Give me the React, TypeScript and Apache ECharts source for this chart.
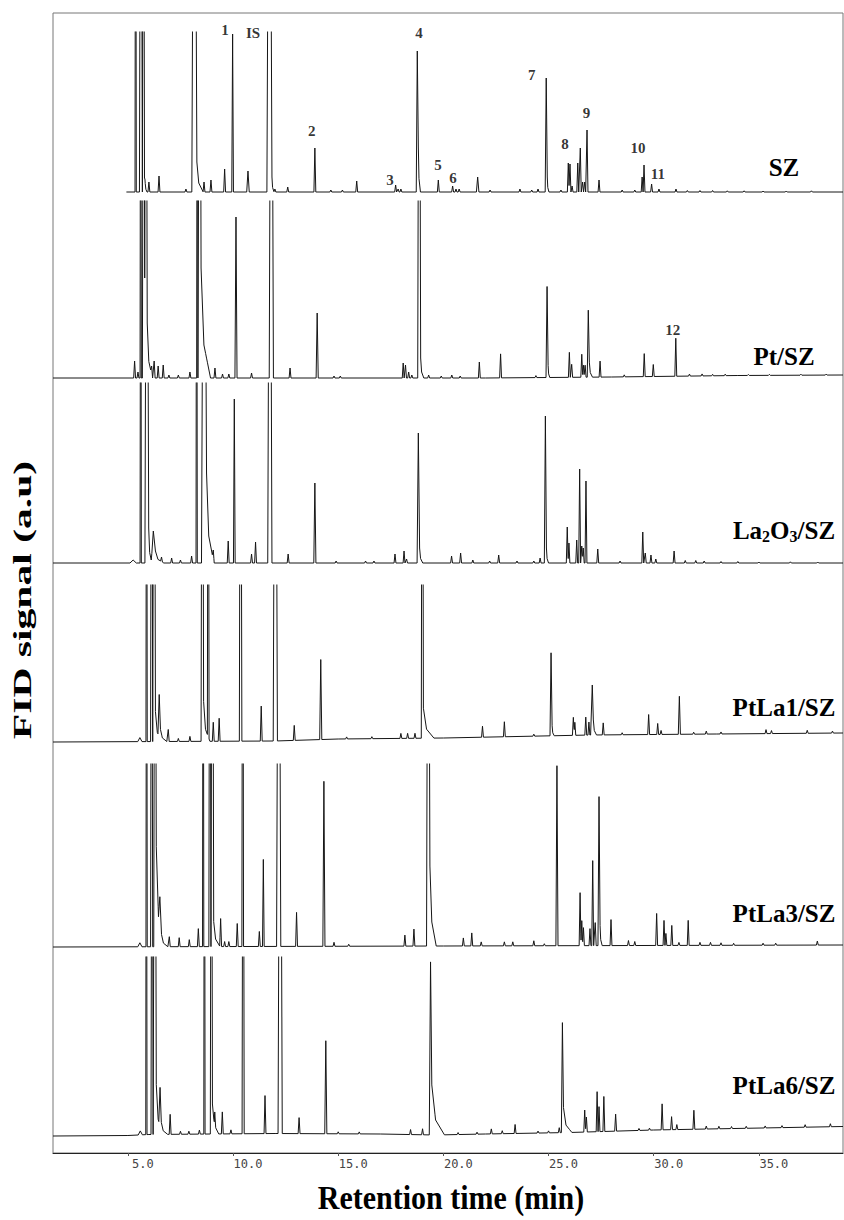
import React, { useEffect, useRef } from "react";
import * as echarts from "echarts";

// ---------- data (retention time in min, signal in a.u.) ----------
const X_MIN = 1.44;
const X_MAX = 39.0;
const TICK_VALUES = [5, 10, 15, 20, 25, 30, 35];

const SAMPLE_NAMES = ["SZ", "Pt/SZ", "La2O3/SZ", "PtLa1/SZ", "PtLa3/SZ", "PtLa6/SZ"];

// peaks: [retention time, height, half width, tail length, tail height]
const SZ_PEAKS = [
  [5.37, 600, 0.03], [5.62, 600, 0.07], [5.74, 600, 0.05, 0.12, 14], [5.81, 13], [6.0, 10], [6.48, 16],
  [7.76, 3], [8.16, 600, 0.12, 0.3, 30], [8.62, 10], [8.95, 12], [9.6, 23], [9.98, 158, 0.04],
  [10.71, 21, 0.06], [11.73, 600, 0.12, 0.1, 15], [11.99, 3], [12.6, 5], [13.89, 44], [14.65, 2],
  [15.2, 2], [15.88, 11], [17.73, 7], [17.85, 3], [17.98, 3], [18.76, 141, 0.05, 0.1, 45],
  [19.76, 12], [20.44, 6], [20.6, 3], [20.75, 3], [21.63, 15, 0.06], [22.22, 2], [23.64, 3],
  [24.2, 2], [24.5, 3], [24.89, 114, 0.05, 0.08, 15], [25.59, 2], [25.94, 29], [26.02, 28], [26.12, 6],
  [26.39, 29], [26.51, 44], [26.62, 10], [26.72, 10], [26.83, 62], [27.4, 12], [28.5, 2], [29.1, 2],
  [29.45, 15], [29.54, 27], [29.9, 8], [30.25, 3], [31.06, 3], [31.6, 1.5], [32.2, 1.5], [32.8, 1.5],
  [33.5, 1.2], [34.3, 1.2], [35.2, 1], [36.3, 1], [37.5, 1.2],
];
const SZ_BASE = [[4.93, 0], [39.0, 0]];

const PT_PEAKS = [
  [5.32, 17], [5.48, 6], [5.61, 600, 0.03], [5.75, 600, 0.06], [5.86, 600, 0.06, 0.25, 55], [6.13, 12],
  [6.25, 17], [6.44, 12], [6.68, 13], [6.95, 3], [7.4, 3], [7.95, 6], [8.3, 600, 0.03],
  [8.42, 600, 0.06, 0.45, 110], [8.74, 12], [9.14, 10], [9.5, 4], [9.8, 4], [10.14, 161, 0.05], [10.88, 5],
  [11.82, 600, 0.1], [12.71, 10], [14.0, 65, 0.05], [14.8, 2], [15.1, 2], [18.09, 15], [18.2, 13],
  [18.35, 6], [18.5, 3], [18.85, 600, 0.07, 0.15, 20], [19.3, 3], [19.9, 2], [20.4, 3], [20.8, 2],
  [21.71, 16], [22.72, 24], [24.4, 2], [24.93, 91, 0.05, 0.08, 12], [25.99, 25], [26.1, 13], [26.58, 23],
  [26.66, 12], [26.74, 12], [26.89, 67, 0.05, 0.15, 15], [27.45, 16], [28.6, 2], [29.55, 23], [29.98, 12],
  [31.05, 38], [31.7, 2], [32.3, 2], [32.8, 1.5], [33.4, 1.5], [34.5, 1], [35.5, 1], [37.0, 1], [38.2, 1],
];
const PT_BASE = [[1.44, 0], [22, 0], [28, 1], [34, 2.5], [39, 3]];

const LA_PEAKS = [
  [5.25, 3, 0.15], [5.61, 600, 0.03], [5.9, 600, 0.09, 0.15, 35], [6.21, 32, 0.1, 0.4, 12], [6.6, 6],
  [7.08, 5], [7.5, 3], [8.03, 7], [8.27, 600, 0.03], [8.62, 600, 0.12, 0.35, 90], [9.06, 13], [9.77, 22],
  [10.06, 164, 0.04], [10.88, 9], [11.07, 21], [11.75, 600, 0.1], [12.62, 9], [13.89, 80, 0.05],
  [14.9, 2], [16.3, 2], [16.7, 2], [17.7, 9], [18.13, 12], [18.25, 4], [18.81, 130, 0.06, 0.15, 15],
  [20.39, 7], [20.82, 10], [21.4, 3], [22.2, 2], [22.63, 8], [23.5, 2], [24.3, 2], [24.6, 5],
  [24.85, 147, 0.05, 0.1, 15], [25.89, 36], [25.97, 20], [26.34, 23], [26.48, 94], [26.58, 17],
  [26.65, 15], [26.78, 82], [27.34, 14], [28.4, 2], [29.48, 31], [29.6, 10], [29.87, 8], [30.1, 4],
  [30.97, 12], [31.5, 2.5], [32.0, 2.5], [32.4, 2], [33.2, 1.5], [34.0, 1.5], [35.0, 1], [36.5, 1.2],
  [37.8, 1],
];
const LA_BASE = [[1.44, 0], [39, 0]];

const PTLA1_PEAKS = [
  [5.57, 4, 0.1], [5.89, 600, 0.03], [6.13, 600, 0.05], [6.25, 600, 0.06, 0.3, 30], [6.49, 47, 0.06, 0.3, 12],
  [6.92, 12], [7.4, 3], [7.95, 5], [8.54, 600, 0.06, 0.3, 40], [8.82, 600, 0.04], [9.06, 19], [9.34, 23],
  [10.36, 600, 0.06], [11.34, 35], [12.01, 600, 0.1], [12.91, 15], [14.17, 80, 0.05], [15.4, 2],
  [16.6, 2], [17.98, 5], [18.3, 5], [18.65, 5], [19.0, 600, 0.05, 0.5, 30], [21.86, 11], [22.9, 15],
  [24.3, 2], [25.12, 83, 0.05, 0.1, 10], [26.18, 18], [26.25, 13], [26.77, 18], [26.92, 13],
  [27.08, 50, 0.05, 0.15, 15], [27.6, 12], [28.5, 2], [29.76, 20], [30.19, 11], [30.35, 4],
  [31.22, 38, 0.05], [31.9, 2], [32.5, 3], [33.2, 2], [35.34, 4], [35.6, 3], [37.3, 3], [38.5, 2],
];
const PTLA1_BASE = [[1.44, 0], [12, 1], [15, 3], [20, 4], [27, 7], [33, 8], [39, 9]];

const PTLA3_PEAKS = [
  [5.57, 4, 0.1], [5.89, 600, 0.03], [6.13, 600, 0.05], [6.29, 600, 0.06, 0.35, 100], [6.52, 50, 0.08, 0.3, 12],
  [6.97, 10], [7.44, 9], [7.92, 7], [8.35, 18], [8.58, 600, 0.03], [8.9, 600, 0.05],
  [9.02, 600, 0.06, 0.3, 25], [9.41, 28], [9.6, 5], [9.8, 5], [10.2, 23], [10.46, 600, 0.04], [11.25, 15],
  [11.44, 87, 0.04], [12.17, 600, 0.1], [13.02, 34], [14.32, 165, 0.05], [14.8, 4], [15.5, 2],
  [18.17, 11], [18.6, 17], [19.28, 600, 0.08, 0.3, 80], [20.95, 8], [21.35, 13], [21.8, 4], [22.9, 4],
  [23.3, 4], [24.3, 5], [24.8, 2], [25.4, 180, 0.05], [26.5, 53], [26.58, 25], [26.66, 18],
  [26.97, 17], [27.1, 85], [27.22, 23], [27.4, 149, 0.05, 0.1, 20], [27.97, 26], [28.8, 5], [29.1, 4],
  [30.14, 32], [30.49, 25], [30.58, 12], [30.86, 20], [31.2, 3], [31.64, 25], [32.2, 3], [32.7, 3],
  [33.2, 2.5], [33.8, 2], [35.2, 2], [35.8, 2], [37.78, 4],
];
const PTLA3_BASE = [[1.44, 0], [20, 1], [39, 2]];

const PTLA6_PEAKS = [
  [5.59, 4, 0.1], [5.88, 600, 0.03], [6.15, 600, 0.05], [6.29, 600, 0.06, 0.3, 50], [6.53, 47, 0.06, 0.3, 12],
  [7.01, 20], [7.5, 3], [7.9, 3], [8.4, 4], [8.64, 600, 0.03], [8.97, 600, 0.05, 0.3, 30], [9.13, 22],
  [9.49, 22], [9.9, 4], [10.48, 600, 0.05], [11.52, 38], [12.24, 600, 0.1], [13.14, 16],
  [14.41, 93, 0.05], [15.0, 2], [16.0, 2], [18.44, 5], [19.01, 6], [19.39, 173, 0.06, 0.6, 50],
  [20.7, 2], [21.6, 2], [22.28, 5], [22.8, 3], [23.41, 9], [24.5, 2], [25.0, 2], [25.51, 5],
  [25.66, 110, 0.05, 0.4, 25], [26.72, 22], [26.8, 15], [27.31, 40], [27.4, 25], [27.63, 35],
  [28.19, 17], [29.3, 2], [29.8, 2], [30.4, 26], [30.85, 13], [31.1, 5], [31.91, 19], [32.5, 3],
  [33.1, 2.5], [33.7, 2], [34.4, 2], [35.3, 2], [36.1, 2], [37.2, 2.5], [38.4, 3],
];
const PTLA6_BASE = [[1.44, 0], [5, 0.5], [6, 1.5], [12, 2.5], [17, 2], [19.6, 1], [22, 2], [26, 3.5], [30, 6], [39, 9.5]];

const TRACE_PEAKS = [SZ_PEAKS, PT_PEAKS, LA_PEAKS, PTLA1_PEAKS, PTLA3_PEAKS, PTLA6_PEAKS];
const TRACE_BASES = [SZ_BASE, PT_BASE, LA_BASE, PTLA1_BASE, PTLA3_BASE, PTLA6_BASE];

// peak labels: [text, retention time, signal] in the SZ panel (12 in Pt/SZ)
const SZ_PEAK_LABELS: [string, number, number][] = [
  ["1", 9.62, 162], ["IS", 10.95, 159], ["2", 13.74, 61], ["3", 17.46, 12], ["4", 18.84, 159],
  ["5", 19.74, 27], ["6", 20.46, 14], ["7", 24.2, 117], ["8", 25.78, 48], ["9", 26.81, 79],
  ["10", 29.25, 44], ["11", 30.2, 18],
];
const PT_PEAK_LABELS: [string, number, number][] = [["12", 30.9, 48]];

// ---------- layout (pixels) ----------
const PLOT_LEFT = 53;
const PLOT_WIDTH = 790;
const FRAME_TOP = 13;
const FRAME_BOTTOM = 1153;
const PANELS = [
  { top: 32, ref: 192, labelY: 167 },
  { top: 201, ref: 378, labelY: 356 },
  { top: 383, ref: 563, labelY: 530 },
  { top: 585, ref: 742, labelY: 707 },
  { top: 764, ref: 947, labelY: 913 },
  { top: 957, ref: 1136, labelY: 1085 },
];
const PAD = 6;

function pieceAt(pts: number[][], x: number, outside: "zero" | "clamp") {
  if (x <= pts[0][0]) return outside === "zero" ? 0 : pts[0][1];
  if (x >= pts[pts.length - 1][0]) return outside === "zero" ? 0 : pts[pts.length - 1][1];
  for (let i = 1; i < pts.length; i++) {
    if (x <= pts[i][0]) {
      const [x0, y0] = pts[i - 1];
      const [x1, y1] = pts[i];
      return x1 === x0 ? y1 : y0 + ((y1 - y0) * (x - x0)) / (x1 - x0);
    }
  }
  return 0;
}

function peakShape(p: number[]) {
  const t = p[0], h = p[1], w = p[2] ?? 0.045, tail = p[3] ?? 0, th = p[4] ?? 0;
  const pts = [[t - w, 0], [t, h]];
  if (tail > 0) pts.push([t + w, th], [t + w + tail * 0.3, th * 0.3], [t + w + tail, 0]);
  else pts.push([t + w, 0]);
  return pts;
}

function buildTrace(peaks: number[][], base: number[][]) {
  const start = base[0][0];
  const end = base[base.length - 1][0];
  const shapes = peaks.map(peakShape);
  const xs = new Set<number>([start, end]);
  base.forEach((b) => xs.add(b[0]));
  shapes.forEach((s) => s.forEach((pt) => { if (pt[0] > start && pt[0] < end) xs.add(+pt[0].toFixed(4)); }));
  const sorted = Array.from(xs).sort((a, b) => a - b);
  return sorted.map((x) => {
    let m = 0;
    for (const s of shapes) {
      if (x > s[0][0] && x < s[s.length - 1][0]) m = Math.max(m, pieceAt(s, x, "zero"));
    }
    return [x, pieceAt(base, x, "clamp") + m];
  });
}

const SERIF = "'Liberation Serif', 'Times New Roman', serif";

export default function App() {
  const ref = useRef<HTMLDivElement>(null);
  useEffect(() => {
    if (!ref.current) return;
    const chart = echarts.init(ref.current, undefined, { renderer: "svg" });

    const grids: any[] = [];
    const xAxes: any[] = [];
    const yAxes: any[] = [];
    const series: any[] = [];

    PANELS.forEach((p, i) => {
      grids.push({ left: PLOT_LEFT, width: PLOT_WIDTH, top: p.top, height: p.ref - p.top + PAD });
      xAxes.push({ gridIndex: i, type: "value", min: X_MIN, max: X_MAX, show: false });
      yAxes.push({ gridIndex: i, type: "value", min: -PAD, max: p.ref - p.top, show: false });
      series.push({
        type: "line",
        name: SAMPLE_NAMES[i],
        xAxisIndex: i,
        yAxisIndex: i,
        data: buildTrace(TRACE_PEAKS[i], TRACE_BASES[i]),
        showSymbol: false,
        symbol: "none",
        clip: true,
        silent: true,
        lineStyle: { color: "#161616", width: 1 },
      });
    });

    const labelSeries = (labels: [string, number, number][], idx: number) => ({
      type: "scatter",
      xAxisIndex: idx,
      yAxisIndex: idx,
      clip: false,
      silent: true,
      symbolSize: 2,
      itemStyle: { color: "rgba(0,0,0,0)" },
      data: labels.map(([n, t, v]) => ({ name: n, value: [t, v] })),
      label: {
        show: true,
        position: "inside",
        formatter: (d: any) => d.name,
        fontFamily: SERIF,
        fontWeight: "bold",
        fontSize: 15,
        color: "#000",
      },
    });
    series.push(labelSeries(SZ_PEAK_LABELS, 0));
    series.push(labelSeries(PT_PEAK_LABELS, 1));

    // frame + retention time axis
    const ai = PANELS.length;
    grids.push({
      left: PLOT_LEFT,
      width: PLOT_WIDTH,
      top: FRAME_TOP,
      height: FRAME_BOTTOM - FRAME_TOP,
      show: true,
      borderColor: "#777",
      borderWidth: 1,
      backgroundColor: "transparent",
    });
    xAxes.push({
      gridIndex: ai,
      type: "value",
      min: X_MIN,
      max: X_MAX,
      position: "bottom",
      axisLine: { show: true, onZero: false, lineStyle: { color: "#222", width: 1 } },
      axisTick: { show: true, customValues: TICK_VALUES, length: 3, lineStyle: { color: "#555" } },
      splitLine: { show: false },
      axisLabel: {
        show: true,
        customValues: TICK_VALUES,
        formatter: (v: number) => v.toFixed(1),
        fontFamily: "'DejaVu Sans Mono', monospace",
        fontSize: 12,
        color: "#444",
        margin: 5,
        padding: [0, 0, 0, 30],
      },
    });
    yAxes.push({ gridIndex: ai, type: "value", min: 0, max: 1, show: false });

    const sampleText = (i: number) => {
      const p = PANELS[i];
      if (SAMPLE_NAMES[i] === "La2O3/SZ") {
        return {
          type: "text",
          x: 784,
          y: p.labelY,
          style: {
            text: "{m|La}{s|2}{m|O}{s|3}{m|/SZ}",
            align: "center",
            verticalAlign: "middle",
            rich: {
              m: { fontFamily: SERIF, fontWeight: "bold", fontSize: 25, lineHeight: 28, fill: "#000" },
              s: { fontFamily: SERIF, fontWeight: "bold", fontSize: 16, lineHeight: 14, verticalAlign: "bottom", fill: "#000" },
            },
          },
        };
      }
      return {
        type: "text",
        x: 784,
        y: p.labelY,
        style: {
          text: SAMPLE_NAMES[i],
          align: "center",
          verticalAlign: "middle",
          font: `bold 25px ${SERIF}`,
          fill: "#000",
        },
      };
    };

    chart.setOption({
      animation: false,
      backgroundColor: "#fff",
      grid: grids,
      xAxis: xAxes,
      yAxis: yAxes,
      series,
      graphic: [
        ...PANELS.map((_, i) => sampleText(i)),
        {
          type: "text",
          x: 451,
          y: 1198,
          scaleY: 1.12,
          style: { text: "Retention time (min)", align: "center", verticalAlign: "middle", font: `bold 30px ${SERIF}`, fill: "#000" },
        },
        {
          type: "text",
          x: 22,
          y: 600,
          rotation: Math.PI / 2,
          scaleX: 1.6,
          style: { text: "FID signal (a.u)", align: "center", verticalAlign: "middle", font: `bold 26px ${SERIF}`, fill: "#000" },
        },
      ],
    });
    return () => chart.dispose();
  }, []);
  return <div ref={ref} style={{ position: "fixed", left: 0, top: 0, width: 844, height: 1220, background: "#fff" }} />;
}
